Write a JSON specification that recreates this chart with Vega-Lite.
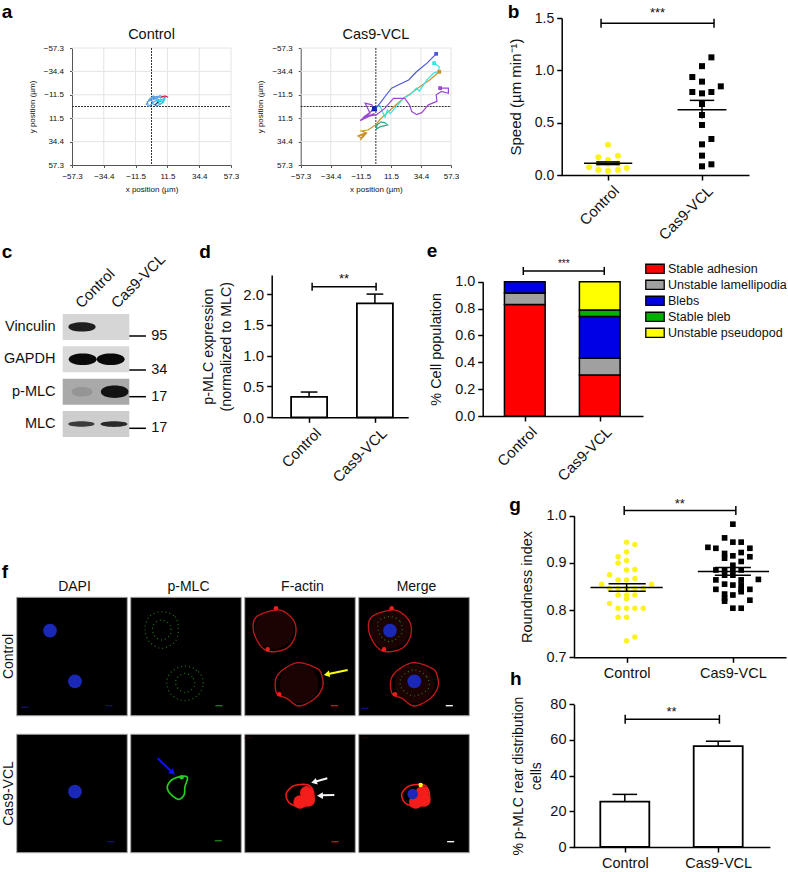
{"$schema":"https://vega.github.io/schema/vega-lite/v6.json","width":788,"height":872,"autosize":{"type":"none"},"padding":0,"background":"white",
"config":{"font":"Liberation Sans","view":{"stroke":null},"axis":{"grid":false,"domainColor":"black","tickColor":"black","labelColor":"#111","titleColor":"#111","domainWidth":1.5,"tickWidth":1.5,"tickSize":5,"labelOverlap":false,"labelBound":false,"labelFlush":false,"labelPadding":3,"titleFontWeight":"normal"}},
"resolve":{"scale":{"x":"independent","y":"independent","color":"independent","shape":"independent","size":"independent","opacity":"independent","strokeDash":"independent","strokeWidth":"independent"},"axis":{"x":"independent","y":"independent"},"legend":{"color":"independent","shape":"independent","size":"independent","opacity":"independent","strokeDash":"independent","strokeWidth":"independent"}},
"datasets":{
"aGrid":[{"x":-34.4,"x2":-34.4,"y":-57.3,"y2":57.3},{"x":-11.5,"x2":-11.5,"y":-57.3,"y2":57.3},{"x":11.5,"x2":11.5,"y":-57.3,"y2":57.3},{"x":34.4,"x2":34.4,"y":-57.3,"y2":57.3},{"x":57.3,"x2":57.3,"y":-57.3,"y2":57.3},{"x":-57.3,"x2":57.3,"y":-57.3,"y2":-57.3},{"x":-57.3,"x2":57.3,"y":-34.4,"y2":-34.4},{"x":-57.3,"x2":57.3,"y":-11.5,"y2":-11.5},{"x":-57.3,"x2":57.3,"y":11.5,"y2":11.5},{"x":-57.3,"x2":57.3,"y":34.4,"y2":34.4}],
"aCross":[{"x":0,"x2":0,"y":-57.3,"y2":57.3},{"x":-57.3,"x2":57.3,"y":0,"y2":0}]
},
"layer":[
{"encoding":{"x":{"field":"x","type":"quantitative","scale":{"domain":[-57.3,57.3],"range":[72,231]},"axis":{"orient":"bottom","offset":-707,"values":[-57.3,-34.4,-11.5,11.5,34.4,57.3],"labelExpr":"replace(format(datum.value,'.1f'),'-','−')","labelFontSize":8,"labelPadding":5,"tickSize":2.5,"tickWidth":1,"domainWidth":1,"domainColor":"#555","tickColor":"#555","title":"x position (µm)","titleFontSize":8,"titlePadding":5}},"y":{"field":"y","type":"quantitative","scale":{"domain":[-57.3,57.3],"range":[48,165]},"axis":{"orient":"left","offset":-72,"values":[-57.3,-34.4,-11.5,11.5,34.4,57.3],"labelExpr":"replace(format(datum.value,'.1f'),'-','−')","labelFontSize":8,"labelPadding":6,"tickSize":2.5,"tickWidth":1,"domainWidth":1,"domainColor":"#555","tickColor":"#555","title":"y position (µm)","titleFontSize":8,"titlePadding":7}}},
"layer":[
{"data":{"name":"aGrid"},"mark":{"type":"rule","color":"#e4e4e4","strokeWidth":1},"encoding":{"x2":{"field":"x2"},"y2":{"field":"y2"}}},
{"data":{"name":"aCross"},"mark":{"type":"rule","color":"#333","strokeWidth":1,"strokeDash":[2,1]},"encoding":{"x2":{"field":"x2"},"y2":{"field":"y2"}}},
{"data":{"values":[
{"track":"A","t":1,"x":-4,"y":-1.5},{"track":"A","t":2,"x":-1.8,"y":-6.4},{"track":"A","t":3,"x":1.3,"y":-10.3},{"track":"A","t":4,"x":3.7,"y":-8},{"track":"A","t":5,"x":6,"y":-10.6},{"track":"A","t":6,"x":9.7,"y":-9},{"track":"A","t":7,"x":7.3,"y":-3},{"track":"A","t":8,"x":3.7,"y":-0.5},{"track":"A","t":9,"x":0.8,"y":-3},{"track":"A","t":10,"x":-2.3,"y":0},{"track":"A","t":11,"x":-3,"y":-5},{"track":"A","t":12,"x":2,"y":-7},{"track":"A","t":13,"x":0,"y":-9},{"track":"A","t":14,"x":5,"y":-7},{"track":"A","t":15,"x":1,"y":-4},{"track":"A","t":16,"x":-1,"y":-8},{"track":"A","t":17,"x":4,"y":-10},{"track":"A","t":18,"x":7,"y":-8},
{"track":"C","t":1,"x":3.7,"y":-3.8},{"track":"C","t":2,"x":6,"y":-6.4},{"track":"C","t":3,"x":9.7,"y":-8},{"track":"C","t":4,"x":8.5,"y":-3.8},{"track":"C","t":5,"x":5.6,"y":-2.4},{"track":"C","t":6,"x":3.7,"y":-6.4},{"track":"C","t":7,"x":7,"y":-5},{"track":"C","t":8,"x":5,"y":-4},{"track":"C","t":9,"x":8,"y":-7},
{"track":"R","t":1,"x":6.6,"y":-9},{"track":"R","t":2,"x":9.7,"y":-10.3},{"track":"R","t":3,"x":12,"y":-9},
{"track":"D","t":1,"x":2.5,"y":-1.5},{"track":"D","t":2,"x":5,"y":-4.7}]},
"mark":{"type":"line","strokeWidth":1.2},"encoding":{"color":{"field":"track","type":"nominal","legend":null,"scale":{"domain":["A","C","R","D"],"range":["#5b9be0","#22d8e8","#d02040","#304060"]}},"order":{"field":"t","type":"quantitative"}}},
{"data":{"values":[{"x":0,"y":-70,"label":"Control"}]},"mark":{"type":"text","fontSize":14.5,"baseline":"middle","color":"#111"},"encoding":{"text":{"field":"label"}}}
]},
{"encoding":{"x":{"field":"x","type":"quantitative","scale":{"domain":[-57.3,57.3],"range":[300.7,451]},"axis":{"orient":"bottom","offset":-707,"values":[-57.3,-34.4,-11.5,11.5,34.4,57.3],"labelExpr":"replace(format(datum.value,'.1f'),'-','−')","labelFontSize":8,"labelPadding":5,"tickSize":2.5,"tickWidth":1,"domainWidth":1,"domainColor":"#555","tickColor":"#555","title":"x position (µm)","titleFontSize":8,"titlePadding":5}},"y":{"field":"y","type":"quantitative","scale":{"domain":[-57.3,57.3],"range":[48,165]},"axis":{"orient":"left","offset":-300.7,"values":[-57.3,-34.4,-11.5,11.5,34.4,57.3],"labelExpr":"replace(format(datum.value,'.1f'),'-','−')","labelFontSize":8,"labelPadding":6,"tickSize":2.5,"tickWidth":1,"domainWidth":1,"domainColor":"#555","tickColor":"#555","title":"y position (µm)","titleFontSize":8,"titlePadding":7}}},
"layer":[
{"data":{"name":"aGrid"},"mark":{"type":"rule","color":"#e4e4e4","strokeWidth":1},"encoding":{"x2":{"field":"x2"},"y2":{"field":"y2"}}},
{"data":{"name":"aCross"},"mark":{"type":"rule","color":"#333","strokeWidth":1,"strokeDash":[2,1]},"encoding":{"x2":{"field":"x2"},"y2":{"field":"y2"}}},
{"data":{"values":[
{"track":"G","t":1,"x":-14,"y":28.7},{"track":"G","t":2,"x":-10.8,"y":31},{"track":"G","t":3,"x":-8.3,"y":26},{"track":"G","t":4,"x":-14,"y":29},{"track":"G","t":5,"x":-9.5,"y":27.5},{"track":"G","t":6,"x":-12,"y":33},{"track":"G","t":7,"x":-7,"y":26},{"track":"G","t":8,"x":-11,"y":24},{"track":"G","t":9,"x":-6,"y":23},{"track":"G","t":10,"x":0,"y":18},{"track":"G","t":11,"x":3,"y":13},{"track":"G","t":12,"x":7,"y":8},{"track":"G","t":13,"x":14,"y":0},{"track":"G","t":14,"x":21,"y":-8},{"track":"G","t":15,"x":27,"y":-13},{"track":"G","t":16,"x":33.7,"y":-19.6},{"track":"G","t":17,"x":41,"y":-26},{"track":"G","t":18,"x":48.4,"y":-34},
{"track":"T","t":1,"x":-0.6,"y":19.6},{"track":"T","t":2,"x":4,"y":15},{"track":"T","t":3,"x":7,"y":16},{"track":"T","t":4,"x":9,"y":18},{"track":"T","t":5,"x":3,"y":20},{"track":"T","t":6,"x":0.5,"y":22},{"track":"T","t":7,"x":1,"y":17},
{"track":"C","t":1,"x":0,"y":0},{"track":"C","t":2,"x":3,"y":-1},{"track":"C","t":3,"x":5,"y":5},{"track":"C","t":4,"x":7,"y":10.5},{"track":"C","t":5,"x":8.8,"y":3.3},{"track":"C","t":6,"x":11,"y":7},{"track":"C","t":7,"x":14.6,"y":1.6},{"track":"C","t":8,"x":21,"y":-8},{"track":"C","t":9,"x":26,"y":-11.4},{"track":"C","t":10,"x":31,"y":-18},{"track":"C","t":11,"x":33,"y":-15},{"track":"C","t":12,"x":39,"y":-26},{"track":"C","t":13,"x":44,"y":-32.7},{"track":"C","t":14,"x":47.7,"y":-34.3},{"track":"C","t":15,"x":48.4,"y":-39},{"track":"C","t":16,"x":44.4,"y":-42.5},
{"track":"P","t":1,"x":49,"y":-18},{"track":"P","t":2,"x":55.3,"y":-18},{"track":"P","t":3,"x":55.3,"y":-13},{"track":"P","t":4,"x":50,"y":-14.7},{"track":"P","t":5,"x":46,"y":-11.4},{"track":"P","t":6,"x":46.6,"y":-5},{"track":"P","t":7,"x":40,"y":-1.6},{"track":"P","t":8,"x":35,"y":6},{"track":"P","t":9,"x":31,"y":8},{"track":"P","t":10,"x":27.4,"y":5},{"track":"P","t":11,"x":25.6,"y":-1.6},{"track":"P","t":12,"x":22,"y":-8},{"track":"P","t":13,"x":13.4,"y":-8},{"track":"P","t":14,"x":7,"y":1.6},{"track":"P","t":15,"x":0.6,"y":8},{"track":"P","t":16,"x":-7,"y":10},{"track":"P","t":17,"x":-12,"y":13.7},{"track":"P","t":18,"x":-4.4,"y":6.5},{"track":"P","t":19,"x":-8.2,"y":-3.3},{"track":"P","t":20,"x":-3,"y":-1.6},{"track":"P","t":21,"x":-2,"y":3.3},{"track":"P","t":22,"x":-10,"y":11},{"track":"P","t":23,"x":-1,"y":7},{"track":"P","t":24,"x":-12,"y":14},{"track":"P","t":25,"x":-3,"y":8},
{"track":"B","t":1,"x":0,"y":1.6},{"track":"B","t":2,"x":3.2,"y":-3.3},{"track":"B","t":3,"x":7,"y":-9.8},{"track":"B","t":4,"x":12,"y":-18},{"track":"B","t":5,"x":17,"y":-21},{"track":"B","t":6,"x":25,"y":-26},{"track":"B","t":7,"x":31,"y":-34},{"track":"B","t":8,"x":39,"y":-42.5},{"track":"B","t":9,"x":46,"y":-51.6},
{"track":"N","t":1,"x":-3,"y":1},{"track":"N","t":2,"x":0,"y":0},{"track":"N","t":3,"x":0.5,"y":4},{"track":"N","t":4,"x":-3,"y":4},{"track":"N","t":5,"x":-2,"y":1}]},
"mark":{"type":"line","strokeWidth":1.2},"encoding":{"color":{"field":"track","type":"nominal","legend":null,"scale":{"domain":["G","T","C","P","B","N"],"range":["#c9922e","#2fa88a","#38e4e4","#9a48d0","#4a58d8","#1020c0"]}},"order":{"field":"t","type":"quantitative"}}},
{"data":{"values":[{"track":"B","x":46,"y":-51.6},{"track":"C","x":44.4,"y":-42.5},{"track":"G","x":48.4,"y":-34},{"track":"P","x":49,"y":-18},{"track":"N","x":-1.5,"y":2}]},"mark":{"type":"point","shape":"square","filled":true,"size":14,"opacity":1},"encoding":{"color":{"field":"track","type":"nominal","legend":null,"scale":{"domain":["B","C","G","P","N"],"range":["#1c28d8","#38e4e4","#b87818","#8030c0","#1020c0"]}}}},
{"data":{"values":[{"x":0,"y":-70,"label":"Cas9-VCL"}]},"mark":{"type":"text","fontSize":14.5,"baseline":"middle","color":"#111"},"encoding":{"text":{"field":"label"}}}
]},
{"encoding":{"x":{"field":"x","type":"quantitative","scale":{"domain":[0.5,2.5],"range":[561,749]},"axis":{"orient":"bottom","offset":-697,"values":[1,2],"labelExpr":"datum.value==1?'Control':'Cas9-VCL'","labelAngle":-45,"labelAlign":"right","labelBaseline":"top","labelFontSize":15,"labelOffset":3,"title":null}},"y":{"field":"y","type":"quantitative","scale":{"domain":[0,1.5],"range":[175,18]},"axis":{"orient":"left","offset":-561.7,"values":[0,0.5,1,1.5],"format":".1f","labelFontSize":14,"title":"Speed (µm min⁻¹)","titleFontSize":15,"titlePadding":10.5}}},
"layer":[
{"data":{"values":[{"x":1,"y":0.29},{"x":0.897,"y":0.169},{"x":1.106,"y":0.185},{"x":1,"y":0.143},{"x":0.798,"y":0.073},{"x":0.897,"y":0.048},{"x":1,"y":0.038},{"x":1.106,"y":0.048},{"x":1.2,"y":0.067},{"x":0.897,"y":0.11},{"x":1.106,"y":0.11},{"x":1,"y":0.11}]},"mark":{"type":"point","shape":"circle","filled":true,"size":36,"color":"#fbf41c","opacity":1}},
{"data":{"values":[{"x":2.1,"y":1.124},{"x":2,"y":1.04},{"x":1.897,"y":0.936},{"x":2,"y":0.892},{"x":2.2,"y":0.847},{"x":1.897,"y":0.793},{"x":2,"y":0.78},{"x":2.1,"y":0.793},{"x":2,"y":0.678},{"x":2,"y":0.573},{"x":2,"y":0.478},{"x":2.1,"y":0.344},{"x":2,"y":0.293},{"x":2,"y":0.185},{"x":2.1,"y":0.102},{"x":2,"y":0.083}]},"mark":{"type":"point","shape":"square","filled":true,"size":36,"color":"black","opacity":1}},
{"data":{"values":[{"x":0.745,"x2":1.258,"y":0.113,"y2":0.113},{"x":0.875,"x2":1.125,"y":0.125,"y2":0.125},{"x":0.875,"x2":1.125,"y":0.1,"y2":0.1},{"x":1.74,"x2":2.26,"y":0.624,"y2":0.624},{"x":1.87,"x2":2.13,"y":0.713,"y2":0.713},{"x":2,"x2":2,"y":0.713,"y2":0.54},{"x":0.926,"x2":2.128,"y":1.45,"y2":1.45},{"x":0.926,"x2":0.926,"y":1.407,"y2":1.493},{"x":2.128,"x2":2.128,"y":1.407,"y2":1.493}]},"mark":{"type":"rule","color":"black","strokeWidth":1.5},"encoding":{"x2":{"field":"x2"},"y2":{"field":"y2"}}},
{"data":{"values":[{"x":1.527,"y":1.55,"label":"***"}]},"mark":{"type":"text","fontSize":13,"baseline":"middle","color":"#111"},"encoding":{"text":{"field":"label"}}}
]},
{"data":{"values":[{"blot":"Vinculin","x0":0,"x1":1},{"blot":"GAPDH","x0":0,"x1":1},{"blot":"p-MLC","x0":0,"x1":1},{"blot":"MLC","x0":0,"x1":1}]},"mark":{"type":"bar","orient":"horizontal"},"encoding":{"x":{"field":"x0","type":"quantitative","scale":{"domain":[0,1],"range":[62.7,129.3]},"axis":null},"x2":{"field":"x1"},"y":{"field":"blot","type":"nominal","sort":null,"scale":{"type":"band","domain":["Vinculin","GAPDH","p-MLC","MLC"],"range":[314,437],"paddingInner":0.2,"paddingOuter":0},"axis":{"orient":"left","offset":-62,"domain":false,"ticks":false,"labelFontSize":14.5,"labelPadding":7,"title":null}},"color":{"field":"blot","type":"nominal","legend":null,"scale":{"domain":["Vinculin","GAPDH","p-MLC","MLC"],"range":["#d6d6d6","#dadada","#a9a9a9","#cdcdcd"]}}}},
{"data":{"values":[{"blot":"Vinculin","x":0.29,"intensity":0.9},{"blot":"GAPDH","x":0.3,"intensity":1},{"blot":"GAPDH","x":0.72,"intensity":1},{"blot":"p-MLC","x":0.29,"intensity":0.12},{"blot":"p-MLC","x":0.78,"intensity":0.95},{"blot":"MLC","x":0.28,"intensity":0.75},{"blot":"MLC","x":0.77,"intensity":0.85}]},"mark":{"type":"point","filled":true,"color":"#0a0a0a"},"encoding":{"x":{"field":"x","type":"quantitative","scale":{"domain":[0,1],"range":[62.7,129.3]},"axis":{"orient":"top","offset":-307,"values":[0.22,0.757],"labelExpr":"datum.value<0.5?'Control':'Cas9-VCL'","labelAngle":-45,"labelAlign":"left","labelBaseline":"middle","labelFontSize":15,"domain":false,"ticks":false,"labelPadding":2,"title":null}},"y":{"field":"blot","type":"nominal","sort":null,"scale":{"type":"band","domain":["Vinculin","GAPDH","p-MLC","MLC"],"range":[314,437],"paddingInner":0.2,"paddingOuter":0},"axis":null},"shape":{"field":"blot","type":"nominal","legend":null,"scale":{"domain":["Vinculin","GAPDH","p-MLC","MLC"],"range":["M-1,0C-1,-0.45,1,-0.45,1,0C1,0.45,-1,0.45,-1,0Z","M-1,0C-1,-0.55,1,-0.55,1,0C1,0.55,-1,0.55,-1,0Z","M-1,0C-1,-0.6,1,-0.6,1,0C1,0.6,-1,0.6,-1,0Z","M-1,0C-1,-0.28,1,-0.28,1,0C1,0.28,-1,0.28,-1,0Z"]}},"size":{"field":"intensity","type":"quantitative","legend":null,"scale":{"domain":[0,1],"range":[400,780]}},"opacity":{"field":"intensity","type":"quantitative","legend":null,"scale":{"domain":[0,1],"range":[0,1]}}}},
{"encoding":{"x":{"field":"x","type":"quantitative","scale":{"domain":[0,1],"range":[62.7,129.3]},"axis":null},"y":{"field":"migration","type":"quantitative","scale":{"domain":[0,123],"range":[314,437]},"axis":null}},"data":{"values":[{"x":1,"x2":1.25,"xt":1.33,"migration":22,"mw":"95"},{"x":1,"x2":1.25,"xt":1.33,"migration":56,"mw":"34"},{"x":1,"x2":1.25,"xt":1.33,"migration":82.7,"mw":"17"},{"x":1,"x2":1.25,"xt":1.33,"migration":114.3,"mw":"17"}]},
"layer":[{"mark":{"type":"rule","color":"black","strokeWidth":1.5},"encoding":{"x2":{"field":"x2"}}},{"mark":{"type":"text","align":"left","baseline":"middle","fontSize":14.5,"color":"#111"},"encoding":{"x":{"field":"xt","type":"quantitative","scale":{"domain":[0,1],"range":[62.7,129.3]},"axis":null},"text":{"field":"mw"}}}]},
{"encoding":{"x":{"field":"x","type":"quantitative","scale":{"domain":[0.5,2.43],"range":[271.2,408.2]},"axis":{"orient":"bottom","offset":-454.7,"values":[1,2],"labelExpr":"datum.value==1?'Control':'Cas9-VCL'","labelAngle":-45,"labelAlign":"right","labelBaseline":"top","labelFontSize":15,"labelOffset":4,"title":null}},"y":{"field":"y","type":"quantitative","scale":{"domain":[0,2.31],"range":[417.3,275]},"axis":{"orient":"left","offset":-271.7,"values":[0,0.5,1,1.5,2],"format":".1f","labelFontSize":15,"title":["p-MLC expression","(normalized to MLC)"],"titleFontSize":14.3,"titleLineHeight":18,"titlePadding":9}}},
"layer":[
{"data":{"values":[{"x":1,"y":0.33},{"x":2,"y":1.85}]},"mark":{"type":"bar","orient":"vertical","width":36,"fill":"white","stroke":"black","strokeWidth":1.8}},
{"data":{"values":[{"x":1,"x2":1,"y":0.33,"y2":0.41},{"x":0.873,"x2":1.127,"y":0.41,"y2":0.41},{"x":2,"x2":2,"y":1.85,"y2":2},{"x":1.873,"x2":2.127,"y":2,"y2":2},{"x":1.046,"x2":2.018,"y":2.12,"y2":2.12},{"x":1.046,"x2":1.046,"y":2.055,"y2":2.185},{"x":2.018,"x2":2.018,"y":2.055,"y2":2.185}]},"mark":{"type":"rule","color":"black","strokeWidth":1.5},"encoding":{"x2":{"field":"x2"},"y2":{"field":"y2"}}},
{"data":{"values":[{"x":1.53,"y":2.25,"label":"**"}]},"mark":{"type":"text","fontSize":13,"baseline":"middle","color":"#111"},"encoding":{"text":{"field":"label"}}}
]},
{"encoding":{"x":{"field":"x","type":"quantitative","scale":{"domain":[0.5,2.51],"range":[482.3,643]},"axis":{"orient":"bottom","offset":-456,"values":[1,2],"labelExpr":"datum.value==1?'Control':'Cas9-VCL'","labelAngle":-45,"labelAlign":"right","labelBaseline":"top","labelFontSize":15,"labelOffset":4,"title":null}},"y":{"field":"y","type":"quantitative","scale":{"domain":[0,1],"range":[416,281.7]},"axis":{"orient":"left","offset":-482.7,"values":[0,0.2,0.4,0.6,0.8,1],"format":".1f","labelFontSize":14.4,"title":"% Cell population","titleFontSize":14.5,"titlePadding":11}}},
"layer":[
{"data":{"values":[{"x":1,"y":0,"y2":0.83,"kind":"Stable adhesion"},{"x":1,"y":0.83,"y2":0.915,"kind":"Unstable lamellipodia"},{"x":1,"y":0.915,"y2":1,"kind":"Blebs"},{"x":2,"y":0,"y2":0.305,"kind":"Stable adhesion"},{"x":2,"y":0.305,"y2":0.43,"kind":"Unstable lamellipodia"},{"x":2,"y":0.43,"y2":0.74,"kind":"Blebs"},{"x":2,"y":0.74,"y2":0.79,"kind":"Stable bleb"},{"x":2,"y":0.79,"y2":1,"kind":"Unstable pseudopod"}]},"mark":{"type":"bar","orient":"vertical","width":40.7,"stroke":"black","strokeWidth":1.5},"encoding":{"y2":{"field":"y2"},"color":{"field":"kind","type":"nominal","sort":null,"scale":{"domain":["Stable adhesion","Unstable lamellipodia","Blebs","Stable bleb","Unstable pseudopod"],"range":["#ff0000","#a0a0a0","#0000e6","#00b000","#ffff00"]},"legend":{"orient":"none","legendX":645,"legendY":261,"title":null,"symbolType":"M-1,-0.5H1V0.5H-1Z","symbolSize":340,"symbolStrokeColor":"black","symbolStrokeWidth":1.3,"labelFontSize":12.5,"labelColor":"#111","clipHeight":15.7,"rowPadding":0,"labelOffset":3,"padding":0}}}},
{"data":{"values":[{"x":0.98,"x2":2.06,"y":1.08,"y2":1.08},{"x":0.98,"x2":0.98,"y":1.05,"y2":1.11},{"x":2.06,"x2":2.06,"y":1.05,"y2":1.11}]},"mark":{"type":"rule","color":"black","strokeWidth":1.5},"encoding":{"x2":{"field":"x2"},"y2":{"field":"y2"}}},
{"data":{"values":[{"x":1.52,"y":1.13,"label":"***"}]},"mark":{"type":"text","fontSize":10,"baseline":"middle","color":"#111"},"encoding":{"text":{"field":"label"}}}
]},
{"data":{"values":[{"c":"DAPI","r":"Control"},{"c":"p-MLC","r":"Control"},{"c":"F-actin","r":"Control"},{"c":"Merge","r":"Control"},{"c":"DAPI","r":"Cas9-VCL"},{"c":"p-MLC","r":"Cas9-VCL"},{"c":"F-actin","r":"Cas9-VCL"},{"c":"Merge","r":"Cas9-VCL"}]},"mark":{"type":"rect","fill":"black","stroke":"#a8a8a8","strokeWidth":1},"encoding":{"x":{"field":"c","type":"nominal","sort":null,"scale":{"type":"band","domain":["DAPI","p-MLC","F-actin","Merge"],"range":[16.7,469.3],"paddingInner":0.03,"paddingOuter":0},"axis":{"orient":"top","offset":-597.3,"domain":false,"ticks":false,"labelAngle":0,"labelFontSize":14,"labelPadding":4,"labelOffset":2.5,"title":null}},"y":{"field":"r","type":"nominal","sort":null,"scale":{"type":"band","domain":["Control","Cas9-VCL"],"range":[597.3,852.7],"paddingInner":0.135,"paddingOuter":0},"axis":{"orient":"left","offset":-16.7,"domain":false,"ticks":false,"labelAngle":-90,"labelAlign":"center","labelBaseline":"bottom","labelFontSize":14,"labelPadding":1.5,"title":null}}}},
{"encoding":{"x":{"field":"x","type":"quantitative","scale":{"domain":[0,1440],"range":[0,480]},"axis":null},"y":{"field":"y","type":"quantitative","scale":{"domain":[0,906],"range":[570,872]},"axis":null},"color":{"field":"tone","type":"nominal","legend":null,"scale":{"domain":["body","actin","actinBright","myosin","myosinBright","dapi","dapiDim","arrowBlue","arrowYellow","white"],"range":["#1c0303","#c01818","#f51c1c","#1d7a1d","#22d022","#1a28b8","#10106a","#1010ff","#ffff10","#f4f4f4"]}}},
"layer":[
{"data":{"values":[{"x":823,"y":178,"tone":"body"},{"x":897,"y":342,"tone":"body"},{"x":1170,"y":178,"tone":"body"},{"x":1243,"y":342,"tone":"body"}]},"mark":{"type":"point","filled":true,"size":1500,"opacity":1}},
{"data":{"values":[
{"id":"g1","tone":"myosin","t":1,"x":485,"y":125},{"id":"g1","tone":"myosin","t":2,"x":525,"y":140},{"id":"g1","tone":"myosin","t":3,"x":535,"y":178},{"id":"g1","tone":"myosin","t":4,"x":525,"y":215},{"id":"g1","tone":"myosin","t":5,"x":485,"y":235},{"id":"g1","tone":"myosin","t":6,"x":448,"y":215},{"id":"g1","tone":"myosin","t":7,"x":435,"y":178},{"id":"g1","tone":"myosin","t":8,"x":448,"y":140},
{"id":"g1i","tone":"myosin","t":1,"x":485,"y":150},{"id":"g1i","tone":"myosin","t":2,"x":510,"y":165},{"id":"g1i","tone":"myosin","t":3,"x":510,"y":195},{"id":"g1i","tone":"myosin","t":4,"x":485,"y":210},{"id":"g1i","tone":"myosin","t":5,"x":462,"y":195},{"id":"g1i","tone":"myosin","t":6,"x":460,"y":165},
{"id":"g2","tone":"myosin","t":1,"x":555,"y":288},{"id":"g2","tone":"myosin","t":2,"x":595,"y":305},{"id":"g2","tone":"myosin","t":3,"x":610,"y":338},{"id":"g2","tone":"myosin","t":4,"x":595,"y":375},{"id":"g2","tone":"myosin","t":5,"x":555,"y":392},{"id":"g2","tone":"myosin","t":6,"x":515,"y":375},{"id":"g2","tone":"myosin","t":7,"x":500,"y":338},{"id":"g2","tone":"myosin","t":8,"x":515,"y":305},
{"id":"g2i","tone":"myosin","t":1,"x":555,"y":310},{"id":"g2i","tone":"myosin","t":2,"x":580,"y":325},{"id":"g2i","tone":"myosin","t":3,"x":582,"y":350},{"id":"g2i","tone":"myosin","t":4,"x":555,"y":368},{"id":"g2i","tone":"myosin","t":5,"x":530,"y":350},{"id":"g2i","tone":"myosin","t":6,"x":530,"y":325},
{"id":"mg1","tone":"myosin","t":1,"x":1170,"y":140},{"id":"mg1","tone":"myosin","t":2,"x":1200,"y":155},{"id":"mg1","tone":"myosin","t":3,"x":1205,"y":190},{"id":"mg1","tone":"myosin","t":4,"x":1170,"y":215},{"id":"mg1","tone":"myosin","t":5,"x":1140,"y":195},{"id":"mg1","tone":"myosin","t":6,"x":1135,"y":155},
{"id":"mg2","tone":"myosin","t":1,"x":1243,"y":300},{"id":"mg2","tone":"myosin","t":2,"x":1280,"y":320},{"id":"mg2","tone":"myosin","t":3,"x":1285,"y":355},{"id":"mg2","tone":"myosin","t":4,"x":1243,"y":378},{"id":"mg2","tone":"myosin","t":5,"x":1205,"y":355},{"id":"mg2","tone":"myosin","t":6,"x":1205,"y":320},
{"id":"a1","tone":"actin","t":1,"x":828,"y":120},{"id":"a1","tone":"actin","t":2,"x":860,"y":130},{"id":"a1","tone":"actin","t":3,"x":885,"y":160},{"id":"a1","tone":"actin","t":4,"x":885,"y":200},{"id":"a1","tone":"actin","t":5,"x":860,"y":235},{"id":"a1","tone":"actin","t":6,"x":810,"y":245},{"id":"a1","tone":"actin","t":7,"x":780,"y":225},{"id":"a1","tone":"actin","t":8,"x":760,"y":180},{"id":"a1","tone":"actin","t":9,"x":770,"y":140},
{"id":"a2","tone":"actin","t":1,"x":897,"y":278},{"id":"a2","tone":"actin","t":2,"x":950,"y":295},{"id":"a2","tone":"actin","t":3,"x":965,"y":315},{"id":"a2","tone":"actin","t":4,"x":968,"y":350},{"id":"a2","tone":"actin","t":5,"x":945,"y":385},{"id":"a2","tone":"actin","t":6,"x":897,"y":408},{"id":"a2","tone":"actin","t":7,"x":860,"y":385},{"id":"a2","tone":"actin","t":8,"x":830,"y":370},{"id":"a2","tone":"actin","t":9,"x":828,"y":325},{"id":"a2","tone":"actin","t":10,"x":855,"y":295},
{"id":"ma1","tone":"actin","t":1,"x":1174,"y":120},{"id":"ma1","tone":"actin","t":2,"x":1206,"y":130},{"id":"ma1","tone":"actin","t":3,"x":1231,"y":160},{"id":"ma1","tone":"actin","t":4,"x":1231,"y":200},{"id":"ma1","tone":"actin","t":5,"x":1206,"y":235},{"id":"ma1","tone":"actin","t":6,"x":1156,"y":245},{"id":"ma1","tone":"actin","t":7,"x":1126,"y":225},{"id":"ma1","tone":"actin","t":8,"x":1106,"y":180},{"id":"ma1","tone":"actin","t":9,"x":1116,"y":140},
{"id":"ma2","tone":"actin","t":1,"x":1243,"y":278},{"id":"ma2","tone":"actin","t":2,"x":1296,"y":295},{"id":"ma2","tone":"actin","t":3,"x":1311,"y":315},{"id":"ma2","tone":"actin","t":4,"x":1314,"y":350},{"id":"ma2","tone":"actin","t":5,"x":1291,"y":385},{"id":"ma2","tone":"actin","t":6,"x":1243,"y":408},{"id":"ma2","tone":"actin","t":7,"x":1206,"y":385},{"id":"ma2","tone":"actin","t":8,"x":1176,"y":370},{"id":"ma2","tone":"actin","t":9,"x":1174,"y":325},{"id":"ma2","tone":"actin","t":10,"x":1201,"y":295},
{"id":"a3","tone":"actinBright","t":1,"x":890,"y":645},{"id":"a3","tone":"actinBright","t":2,"x":925,"y":645},{"id":"a3","tone":"actinBright","t":3,"x":940,"y":665},{"id":"a3","tone":"actinBright","t":4,"x":938,"y":695},{"id":"a3","tone":"actinBright","t":5,"x":905,"y":710},{"id":"a3","tone":"actinBright","t":6,"x":870,"y":700},{"id":"a3","tone":"actinBright","t":7,"x":858,"y":675},{"id":"a3","tone":"actinBright","t":8,"x":870,"y":655},
{"id":"ma3","tone":"actinBright","t":1,"x":1237,"y":645},{"id":"ma3","tone":"actinBright","t":2,"x":1272,"y":645},{"id":"ma3","tone":"actinBright","t":3,"x":1287,"y":665},{"id":"ma3","tone":"actinBright","t":4,"x":1285,"y":695},{"id":"ma3","tone":"actinBright","t":5,"x":1252,"y":710},{"id":"ma3","tone":"actinBright","t":6,"x":1217,"y":700},{"id":"ma3","tone":"actinBright","t":7,"x":1205,"y":675},{"id":"ma3","tone":"actinBright","t":8,"x":1217,"y":655},
{"id":"m3","tone":"myosinBright","t":1,"x":515,"y":630},{"id":"m3","tone":"myosinBright","t":2,"x":540,"y":620},{"id":"m3","tone":"myosinBright","t":3,"x":562,"y":622},{"id":"m3","tone":"myosinBright","t":4,"x":555,"y":650},{"id":"m3","tone":"myosinBright","t":5,"x":552,"y":675},{"id":"m3","tone":"myosinBright","t":6,"x":535,"y":688},{"id":"m3","tone":"myosinBright","t":7,"x":510,"y":670},{"id":"m3","tone":"myosinBright","t":8,"x":502,"y":650}]},
"mark":{"type":"line","interpolate":"cardinal-closed"},"encoding":{"detail":{"field":"id"},"order":{"field":"t","type":"quantitative"},"strokeWidth":{"field":"tone","type":"nominal","legend":null,"scale":{"domain":["myosin","actin","actinBright","myosinBright"],"range":[1.2,1.7,3,1.3]}},"strokeDash":{"field":"tone","type":"nominal","legend":null,"scale":{"domain":["myosin","actin","actinBright","myosinBright"],"range":[[1,3],[1,0],[1,0],[1,0]]}}}},
{"data":{"values":[{"x":920,"y":668,"tone":"actinBright"},{"x":925,"y":690,"tone":"actinBright"},{"x":900,"y":696,"tone":"actinBright"},{"x":1267,"y":668,"tone":"actinBright"},{"x":1272,"y":690,"tone":"actinBright"},{"x":1247,"y":696,"tone":"actinBright"}]},"mark":{"type":"point","filled":true,"size":180,"opacity":1}},
{"data":{"values":[{"x":150,"y":182,"tone":"dapi"},{"x":225,"y":334,"tone":"dapi"},{"x":225,"y":665,"tone":"dapi"},{"x":1170,"y":182,"tone":"dapi"},{"x":1243,"y":334,"tone":"dapi"}]},"mark":{"type":"point","filled":true,"size":190,"opacity":1}},
{"data":{"values":[{"x":1238,"y":672,"tone":"dapi"}]},"mark":{"type":"point","filled":true,"size":110,"opacity":1}},
{"data":{"values":[{"x":828,"y":115,"tone":"actinBright"},{"x":803,"y":238,"tone":"actinBright"},{"x":838,"y":373,"tone":"actinBright"},{"x":1175,"y":115,"tone":"actinBright"},{"x":1152,"y":238,"tone":"actinBright"},{"x":1185,"y":373,"tone":"actinBright"},{"x":545,"y":622,"tone":"myosinBright"},{"x":1262,"y":645,"tone":"arrowYellow"}]},"mark":{"type":"point","filled":true,"size":20,"opacity":1}},
{"data":{"values":[{"x":327,"y":407,"tone":"dapiDim"},{"x":657,"y":407,"tone":"myosin"},{"x":1003,"y":407,"tone":"actin"},{"x":1348,"y":407,"tone":"white"},{"x":332,"y":815,"tone":"dapiDim"},{"x":655,"y":812,"tone":"myosin"},{"x":1005,"y":815,"tone":"actin"},{"x":1352,"y":815,"tone":"white"},{"x":75,"y":412,"tone":"dapiDim"},{"x":1095,"y":415,"tone":"dapiDim"},{"x":745,"y":503,"tone":"body"},{"x":1095,"y":503,"tone":"body"}]},"mark":{"type":"point","filled":true,"shape":"M-1,-0.2H1V0.2H-1Z","size":50,"opacity":1}},
{"data":{"values":[{"x":473,"y":565,"x2":515,"y2":605,"tone":"arrowBlue"},{"x":1043,"y":300,"x2":985,"y2":312,"tone":"arrowYellow"},{"x":982,"y":625,"x2":945,"y2":635,"tone":"white"},{"x":1003,"y":675,"x2":965,"y2":676,"tone":"white"}]},"mark":{"type":"rule","strokeWidth":2},"encoding":{"x2":{"field":"x2"},"y2":{"field":"y2"}}},
{"data":{"values":[{"x":518,"y":608,"angle":134,"tone":"arrowBlue"},{"x":980,"y":313,"angle":259,"tone":"arrowYellow"},{"x":942,"y":636,"angle":254,"tone":"white"},{"x":960,"y":677,"angle":268,"tone":"white"}]},"mark":{"type":"point","shape":"triangle-up","filled":true,"size":45,"opacity":1},"encoding":{"angle":{"field":"angle","type":"quantitative","scale":{"domain":[0,360],"range":[0,360]}}}}
]},
{"encoding":{"x":{"field":"x","type":"quantitative","scale":{"domain":[0.5,2.5],"range":[573.5,786]},"axis":{"orient":"bottom","offset":-214.7,"values":[1,2],"labelExpr":"datum.value==1?'Control':'Cas9-VCL'","labelAngle":0,"labelAlign":"center","labelBaseline":"top","labelFontSize":14.5,"labelPadding":4,"title":null}},"y":{"field":"y","type":"quantitative","scale":{"domain":[0.7,1],"range":[657.3,515.7]},"axis":{"orient":"left","offset":-574,"values":[0.7,0.8,0.9,1],"format":".1f","labelFontSize":14.4,"title":"Roundness index","titleFontSize":14.5,"titlePadding":11}}},
"layer":[
{"data":{"values":[{"x":1,"y":0.944},{"x":1.078,"y":0.939},{"x":1,"y":0.923},{"x":0.92,"y":0.913},{"x":0.92,"y":0.9},{"x":1,"y":0.905},{"x":1,"y":0.885},{"x":1.078,"y":0.886},{"x":0.84,"y":0.875},{"x":1.078,"y":0.867},{"x":0.92,"y":0.864},{"x":1,"y":0.864},{"x":0.765,"y":0.855},{"x":1.235,"y":0.855},{"x":0.84,"y":0.846},{"x":0.92,"y":0.846},{"x":1,"y":0.846},{"x":1.078,"y":0.846},{"x":1.157,"y":0.846},{"x":0.92,"y":0.832},{"x":1,"y":0.832},{"x":1.078,"y":0.832},{"x":1,"y":0.824},{"x":0.84,"y":0.814},{"x":0.92,"y":0.804},{"x":1,"y":0.804},{"x":1.078,"y":0.804},{"x":1.157,"y":0.804},{"x":0.92,"y":0.785},{"x":1,"y":0.785},{"x":1.078,"y":0.743},{"x":1,"y":0.735}]},"mark":{"type":"point","shape":"circle","filled":true,"size":30,"color":"#fbf41c","opacity":1}},
{"data":{"values":[{"x":2,"y":0.982},{"x":1.922,"y":0.953},{"x":2,"y":0.944},{"x":2.078,"y":0.944},{"x":1.765,"y":0.933},{"x":1.84,"y":0.931},{"x":2.16,"y":0.931},{"x":1.922,"y":0.92},{"x":2.078,"y":0.922},{"x":2,"y":0.915},{"x":1.922,"y":0.91},{"x":2.16,"y":0.913},{"x":2.078,"y":0.903},{"x":2,"y":0.895},{"x":1.84,"y":0.885},{"x":1.922,"y":0.885},{"x":2.078,"y":0.885},{"x":2,"y":0.885},{"x":2,"y":0.874},{"x":1.922,"y":0.874},{"x":1.84,"y":0.864},{"x":2.24,"y":0.865},{"x":2.078,"y":0.864},{"x":1.922,"y":0.855},{"x":2,"y":0.853},{"x":2.078,"y":0.853},{"x":1.84,"y":0.844},{"x":2.078,"y":0.844},{"x":2.16,"y":0.844},{"x":1.922,"y":0.834},{"x":2,"y":0.832},{"x":2.078,"y":0.839},{"x":1.922,"y":0.825},{"x":2.16,"y":0.821},{"x":1.922,"y":0.819},{"x":2,"y":0.804},{"x":2.078,"y":0.804}]},"mark":{"type":"point","shape":"square","filled":true,"size":32,"color":"black","opacity":1}},
{"data":{"values":[{"x":0.66,"x2":1.34,"y":0.848,"y2":0.848},{"x":0.83,"x2":1.18,"y":0.856,"y2":0.856},{"x":0.83,"x2":1.18,"y":0.84,"y2":0.84},{"x":1,"x2":1,"y":0.84,"y2":0.856},{"x":1.67,"x2":2.34,"y":0.882,"y2":0.882},{"x":1.83,"x2":2.17,"y":0.89,"y2":0.89},{"x":1.83,"x2":2.17,"y":0.874,"y2":0.874},{"x":2,"x2":2,"y":0.874,"y2":0.89},{"x":0.977,"x2":2.028,"y":1.011,"y2":1.011},{"x":0.977,"x2":0.977,"y":1.0015,"y2":1.0205},{"x":2.028,"x2":2.028,"y":1.0015,"y2":1.0205}]},"mark":{"type":"rule","color":"black","strokeWidth":1.5},"encoding":{"x2":{"field":"x2"},"y2":{"field":"y2"}}},
{"data":{"values":[{"x":1.5,"y":1.025,"label":"**"}]},"mark":{"type":"text","fontSize":13,"baseline":"middle","color":"#111"},"encoding":{"text":{"field":"label"}}}
]},
{"encoding":{"x":{"field":"x","type":"quantitative","scale":{"domain":[0.5,2.5],"range":[573.1,769.9]},"axis":{"orient":"bottom","offset":-25,"values":[1,2],"labelExpr":"datum.value==1?'Control':'Cas9-VCL'","labelAngle":0,"labelAlign":"center","labelBaseline":"top","labelFontSize":14.5,"labelPadding":4,"title":null}},"y":{"field":"y","type":"quantitative","scale":{"domain":[0,80],"range":[847,704.3]},"axis":{"orient":"left","offset":-574,"values":[0,20,40,60,80],"labelFontSize":14.5,"title":["% p-MLC rear distribution","cells"],"titleFontSize":14,"titleLineHeight":18,"titlePadding":6}}},
"layer":[
{"data":{"values":[{"x":1,"y":25.4},{"x":2,"y":56.6}]},"mark":{"type":"bar","orient":"vertical","width":49,"fill":"white","stroke":"black","strokeWidth":1.8}},
{"data":{"values":[{"x":1,"x2":1,"y":25.4,"y2":29.5},{"x":0.868,"x2":1.132,"y":29.5,"y2":29.5},{"x":2,"x2":2,"y":56.6,"y2":59.3},{"x":1.868,"x2":2.132,"y":59.3,"y2":59.3},{"x":1.004,"x2":2.013,"y":71.6,"y2":71.6},{"x":1.004,"x2":1.004,"y":69.1,"y2":74.1},{"x":2.013,"x2":2.013,"y":69.1,"y2":74.1}]},"mark":{"type":"rule","color":"black","strokeWidth":1.5},"encoding":{"x2":{"field":"x2"},"y2":{"field":"y2"}}},
{"data":{"values":[{"x":1.5,"y":75.5,"label":"**"}]},"mark":{"type":"text","fontSize":13,"baseline":"middle","color":"#111"},"encoding":{"text":{"field":"label"}}}
]},
{"data":{"values":[{"panel":"a","fx":0.0022,"fy":0.021},{"panel":"b","fx":0.6443,"fy":0.0203},{"panel":"c","fx":0.0022,"fy":0.2955},{"panel":"d","fx":0.2529,"fy":0.2955},{"panel":"e","fx":0.5415,"fy":0.2944},{"panel":"f","fx":0.0022,"fy":0.6625},{"panel":"g","fx":0.6463,"fy":0.5857},{"panel":"h","fx":0.6472,"fy":0.7856}]},"mark":{"type":"text","align":"left","baseline":"alphabetic","fontSize":19,"fontWeight":"bold","color":"black"},"encoding":{"x":{"field":"fx","type":"quantitative","scale":{"domain":[0,1],"range":[0,788]},"axis":null},"y":{"field":"fy","type":"quantitative","scale":{"domain":[0,1],"range":[0,872]},"axis":null},"text":{"field":"panel"}}}
]}
